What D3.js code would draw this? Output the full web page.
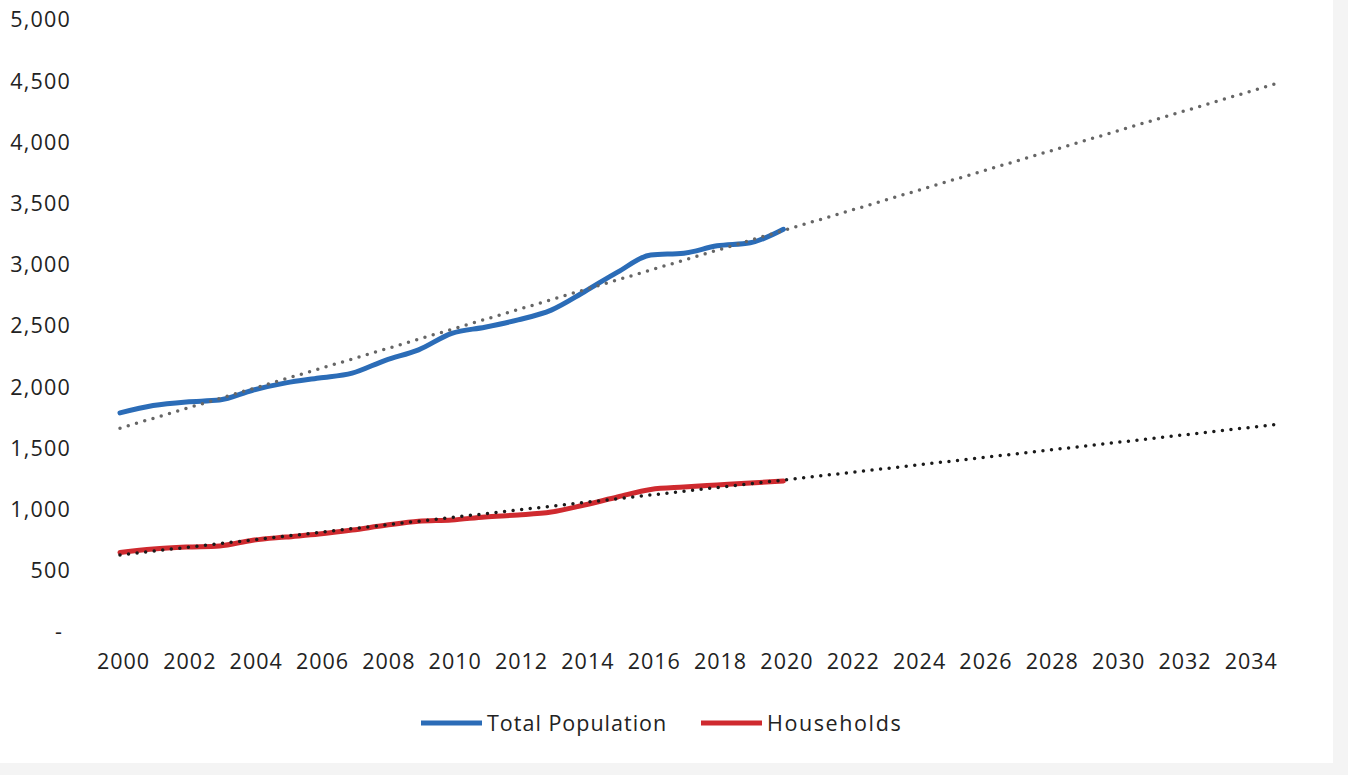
<!DOCTYPE html>
<html>
<head>
<meta charset="utf-8">
<script src="https://cdn.jsdelivr.net/npm/d3@7"></script>
<style>
  body { margin: 0; background: #f4f4f4; }
  #chart-area { width: 1348px; height: 775px; }
  text { font-family: "Open Sans", sans-serif; fill: #222; }
</style>
</head>
<body>
<div id="chart-area"></div>
<script>
// values
const years = d3.range(2000, 2021);
const totalPopulation = [1790, 1850, 1880, 1895, 1975, 2035, 2075, 2115, 2220, 2305,
  2440, 2490, 2550, 2630, 2780, 2940, 3080, 3095, 3155, 3180, 3290];
const households = [650, 678, 694, 703, 750, 776, 800, 833, 872, 905,
  915, 940, 956, 980, 1038, 1103, 1165, 1185, 1201, 1217, 1234];

// linear trendlines, start and end
const trendYears = [2000, 2035];
const populationTrend = [1665, 4492];
const householdsTrend = [630, 1700];

const yTicks = [0, 500, 1000, 1500, 2000, 2500, 3000, 3500, 4000, 4500, 5000];
const xTicks = d3.range(2000, 2035, 2);

const svg = d3.select('#chart-area')
  .append('svg')
  .attr('width', 1348)
  .attr('height', 775);

// white page, scanned edge on the right and bottom
svg.append('rect')
  .attr('width', 1333)
  .attr('height', 763)
  .attr('fill', '#fff');

const x = d3.scaleLinear().domain([2000, 2035]).range([120, 1281]);
const y = d3.scaleLinear().domain([0, 5000]).range([632, 20]);

// y axis labels
const yAxis = d3.axisLeft(y)
  .tickValues(yTicks)
  .tickSize(0)
  .tickPadding(0)
  .tickFormat(d => d === 0 ? '-' : d3.format(',')(d));

svg.append('g')
  .attr('transform', 'translate(71,0)')
  .call(yAxis)
  .call(g => g.select('.domain').remove())
  .selectAll('text')
  .attr('font-size', 21.5)
  .attr('font-family', 'Open Sans, sans-serif')
  .attr('letter-spacing', 1.2)
  .attr('fill', '#222')
  .attr('dx', d => d === 0 ? -8 : 0);

// x axis labels
const xAxis = d3.axisBottom(x)
  .tickValues(xTicks)
  .tickSize(0)
  .tickPadding(0)
  .tickFormat(d3.format('d'));

svg.append('g')
  .attr('transform', 'translate(3,654)')
  .call(xAxis)
  .call(g => g.select('.domain').remove())
  .selectAll('text')
  .attr('font-size', 21.5)
  .attr('font-family', 'Open Sans, sans-serif')
  .attr('letter-spacing', 1)
  .attr('fill', '#222');

const line = d3.line()
  .x((_, i) => x(years[i]))
  .y(d => y(d))
  .curve(d3.curveMonotoneX);

const trendLine = d3.line()
  .x((_, i) => x(trendYears[i]))
  .y(d => y(d));

const series = [
  { name: 'Total Population', values: totalPopulation, color: '#2b6cb7' },
  { name: 'Households', values: households, color: '#cf2a2f' }
];

svg.selectAll('.series')
  .data(series)
  .enter()
  .append('path')
  .attr('class', 'series')
  .attr('d', d => line(d.values))
  .attr('fill', 'none')
  .attr('stroke', d => d.color)
  .attr('stroke-width', 5)
  .attr('stroke-linejoin', 'round')
  .attr('stroke-linecap', 'round');

// dotted trendlines on top
const trends = [
  { values: populationTrend, color: '#666' },
  { values: householdsTrend, color: '#1a1a1a' }
];

svg.selectAll('.trend')
  .data(trends)
  .enter()
  .append('path')
  .attr('class', 'trend')
  .attr('d', d => trendLine(d.values))
  .attr('fill', 'none')
  .attr('stroke', d => d.color)
  .attr('stroke-width', 3.5)
  .attr('stroke-dasharray', '0 8.6')
  .attr('stroke-linecap', 'round');

// legend
const legend = svg.selectAll('.legend')
  .data(series)
  .enter()
  .append('g')
  .attr('class', 'legend')
  .attr('transform', (_, i) => `translate(${i * 280 + 421},723)`);

legend.append('line')
  .attr('x1', 0)
  .attr('x2', 61)
  .attr('stroke', d => d.color)
  .attr('stroke-width', 5);

legend.append('text')
  .attr('x', 66)
  .attr('dy', '0.35em')
  .attr('font-size', 21.5)
  .attr('letter-spacing', d => d.name === 'Households' ? 1.6 : 1)
  .text(d => d.name);
</script>
</body>
</html>
